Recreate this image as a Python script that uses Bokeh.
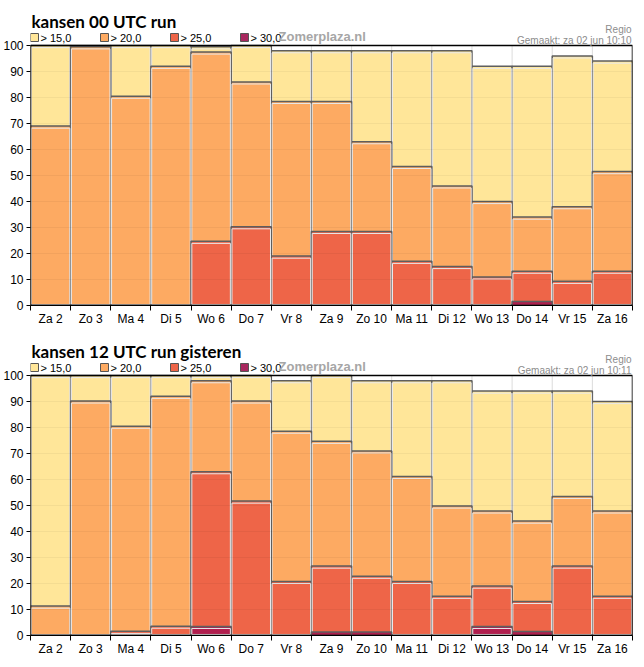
from bokeh.plotting import figure
from bokeh.models import FixedTicker
from bokeh.layouts import column
from bokeh.embed import file_html
from bokeh.resources import INLINE
from bokeh.core.properties import value

days = ["Za 2", "Zo 3", "Ma 4", "Di 5", "Wo 6", "Do 7", "Vr 8", "Za 9",
        "Zo 10", "Ma 11", "Di 12", "Wo 13", "Do 14", "Vr 15", "Za 16"]
thresholds = ["> 15,0", "> 20,0", "> 25,0", "> 30,0"]
colors = ["#FFE699", "#FDAA62", "#EE6548", "#B01E4E"]
legend_colors = ["#FFE699", "#FDAA62", "#EE6548", "#A8285F"]
y_ticks = [0, 10, 20, 30, 40, 50, 60, 70, 80, 90, 100]

# run 00 UTC
run00_gt15 = [100, 100, 100, 100, 99.5, 100, 98, 98, 98, 98, 98, 92, 92, 96, 94]
run00_gt20 = [69, 99.5, 80.5, 92, 97.5, 86, 78.5, 78.5, 63, 53.5, 46, 40, 34, 38, 51.5]
run00_gt25 = [0, 0, 0, 0, 24.7, 30.3, 19, 28.5, 28.5, 17, 15, 11, 13.2, 9.3, 13.2]
run00_gt30 = [0, 0, 0, 0, 0, 0, 0, 0, 0, 0, 0, 0, 1.5, 0, 0]

# run 12 UTC gisteren
run12_gt15 = [100, 100, 100, 100, 100, 100, 98, 100, 98, 98, 98, 94, 94, 94, 90]
run12_gt20 = [11.3, 90.2, 80.5, 92, 98, 90.2, 78.6, 74.7, 71, 61.2, 49.8, 47.9, 44, 53.5, 47.9]
run12_gt25 = [0, 0, 1.6, 3.6, 63, 51.7, 20.8, 26.7, 22.8, 20.8, 15.1, 19, 13.1, 26.7, 15.1]
run12_gt30 = [0, 0, 0, 0, 3.5, 0, 0, 1.3, 1.3, 0, 0, 3.5, 1.5, 0, 0]

panels = [
    dict(title="kansen 00 UTC run", stamp="Gemaakt: za 02 jun 10:10",
         series=[run00_gt15, run00_gt20, run00_gt25, run00_gt30],
         header=45, bottom=25),
    dict(title="kansen 12 UTC run gisteren", stamp="Gemaakt: za 02 jun 10:11",
         series=[run12_gt15, run12_gt20, run12_gt25, run12_gt30],
         header=45, bottom=22),
]

FONT = "Liberation Sans"
PLOT_W, PLOT_H = 602, 260      # pixel size of the 0..100 plot box
BORDER_L = 24


def make_panel(title, stamp, series, header, bottom):
    n = len(days)
    xs = list(range(n))
    bounds = [i - 0.5 for i in range(n + 1)]
    ppu = PLOT_H / 100.0               # pixels per y unit
    ppx = PLOT_W / n                   # pixels per category
    frame_h = PLOT_H + header
    ymax = frame_h / ppu

    p = figure(frame_width=PLOT_W, frame_height=frame_h,
               min_border_left=BORDER_L, min_border_right=2,
               min_border_top=0, min_border_bottom=bottom,
               x_range=(-0.5, n - 0.5), y_range=(0, ymax),
               output_backend="svg", toolbar_location=None,
               background_fill_color="white", border_fill_color="white")
    p.outline_line_color = None
    p.xgrid.visible = False
    p.ygrid.visible = False

    # axes
    p.xaxis.ticker = FixedTicker(ticks=xs, minor_ticks=bounds)
    p.xaxis.major_label_overrides = {i: d for i, d in enumerate(days)}
    p.xaxis.major_tick_line_color = None
    p.xaxis.major_tick_out = 0
    p.xaxis.major_tick_in = 0
    p.xaxis.minor_tick_line_color = "black"
    p.xaxis.minor_tick_out = 5
    p.xaxis.minor_tick_in = 0
    p.xaxis.major_label_standoff = 1
    p.xaxis.axis_line_color = "black"
    p.yaxis.ticker = FixedTicker(ticks=y_ticks)
    p.yaxis.minor_tick_line_color = None
    p.yaxis.major_tick_out = 4
    p.yaxis.major_tick_in = 0
    p.yaxis.major_tick_line_color = "black"
    p.yaxis.major_label_standoff = 3
    p.yaxis.axis_line_color = None
    for ax in (p.xaxis, p.yaxis):
        ax.major_label_text_font = FONT
        ax.major_label_text_font_size = "12px"
        ax.major_label_text_color = "black"

    # vertical grid lines at category boundaries (inside the 0..100 box)
    p.segment(x0=bounds, x1=bounds, y0=[0] * len(bounds), y1=[100] * len(bounds),
              line_color="#dcdcdc", line_width=1)

    # bars: each threshold drawn from 0, overlapping
    for vals, col in zip(series, colors):
        p.vbar(x=xs, top=vals, bottom=0, width=1.0, fill_color=col,
               line_color="#5e5e5e", line_width=1.5)
        hx = [x for x, v in zip(xs, vals) if v > 1.5]
        ht = [v - 0.8 for v in vals if v > 1.5]
        if hx:
            p.vbar(x=hx, top=ht, bottom=0.4, width=0.96, fill_color=None,
                   line_color="#e9e9e9", line_width=1)

    # faint horizontal grid over the bars
    hg = y_ticks[1:-1]
    p.segment(x0=[-0.5] * len(hg), x1=[n - 0.5] * len(hg), y0=hg, y1=hg,
              line_color="black", line_alpha=0.045, line_width=1)

    # frame box around 0..100
    p.quad(left=[-0.5], right=[n - 0.5], bottom=[0], top=[100],
           fill_color=None, line_color="black", line_width=1.5)

    # header helpers: px offsets measured upward from the top of the box
    def dx(px_from_left):
        return -0.5 + px_from_left / ppx

    def dy(px_above_box):
        return 100 + px_above_box / ppu

    # title
    p.text(x=[dx(1)], y=[dy(24)], text=[title],
           text_font=value("Lato"), text_font_style="bold",
           text_font_size="17px", text_color="black",
           text_baseline="alphabetic", text_align="left")

    # legend
    sq_x = [dx(4 + 70 * i) for i in range(len(thresholds))]
    lg_y = dy(8)
    p.rect(x=sq_x, y=[lg_y] * len(sq_x), width=8, height=8,
           width_units="screen", height_units="screen",
           fill_color=legend_colors, line_color="#555555", line_width=1)
    p.text(x=[dx(10 + 70 * i) for i in range(len(thresholds))],
           y=[lg_y] * len(thresholds), text=thresholds,
           text_font=value(FONT), text_font_size="11px", text_color="black",
           text_baseline="middle", text_align="left")

    # watermark and right-hand notes
    p.text(x=[dx(248)], y=[dy(9)], text=["Zomerplaza.nl"],
           text_font=value(FONT), text_font_style="bold",
           text_font_size="13px", text_color="#a6a6a6",
           text_baseline="middle", text_align="left")
    p.text(x=[dx(PLOT_W - 1)], y=[dy(16)], text=["Regio"],
           text_font=value(FONT), text_font_size="10px", text_color="#8c8c8c",
           text_baseline="middle", text_align="right")
    p.text(x=[dx(PLOT_W - 1)], y=[dy(5)], text=[stamp],
           text_font=value(FONT), text_font_size="10px", text_color="#8c8c8c",
           text_baseline="middle", text_align="right")
    return p


figs = [make_panel(**pn) for pn in panels]
layout = column(*figs, spacing=0)
open("out.html", "w").write(file_html(layout, INLINE))
